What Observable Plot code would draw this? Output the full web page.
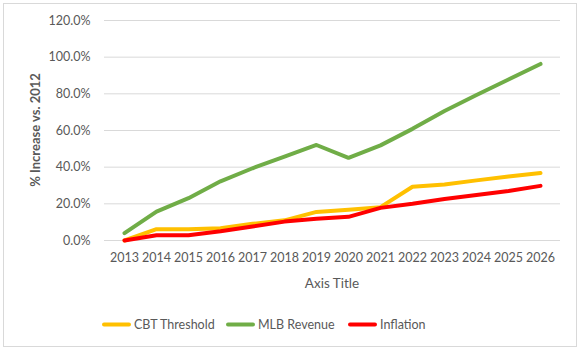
<!DOCTYPE html>
<html>
<head>
<meta charset="utf-8">
<script src="https://cdn.jsdelivr.net/npm/d3@7"></script>
<script src="https://cdn.jsdelivr.net/npm/@observablehq/plot@0.6"></script>
<style>
  html, body { margin: 0; padding: 0; background: #fff; }
  body { width: 583px; height: 352px; position: relative; overflow: hidden; font-family: Lato, "Open Sans", sans-serif; color: #595959; }
  #frame { position: absolute; left: 3px; top: 3px; width: 574px; height: 344px; border: 1px solid #d9d9d9; box-sizing: border-box; }
  #chart { position: absolute; left: 0; top: 0; }
  .ytitle { position: absolute; left: 35px; top: 130px; transform: translate(-50%, -50%) rotate(-90deg); font-weight: bold; font-size: 13px; white-space: nowrap; }
  .xtitle { position: absolute; left: 332px; top: 283px; transform: translate(-50%, -50%); font-size: 13.5px; white-space: nowrap; }
  .leg { position: absolute; top: 324px; transform: translateY(-50%); display: flex; align-items: center; font-size: 12.5px; white-space: nowrap; }
  .leg .sw { width: 29px; height: 4px; margin-right: 3px; border-radius: 2px; }
</style>
</head>
<body>
<div id="frame"></div>
<div id="chart"></div>
<div class="ytitle">% Increase vs. 2012</div>
<div class="xtitle">Axis Title</div>
<div id="legend"></div>
<script>
const years = ["2013","2014","2015","2016","2017","2018","2019","2020","2021","2022","2023","2024","2025","2026"];
const cbtThreshold = [0, 6.2, 6.2, 6.7, 9.1, 11.0, 15.6, 16.8, 18.2, 29.3, 30.5, 32.8, 34.9, 36.8];
const mlbRevenue  = [4.0, 15.8, 23.1, 32.3, 39.4, 45.8, 52.1, 45.1, 51.9, 60.9, 70.6, 79.4, 87.8, 96.3];
const inflation   = [0, 2.9, 2.9, 5.0, 7.6, 10.3, 11.8, 12.9, 17.8, 20.0, 22.6, 24.8, 27.0, 29.8];
const yTicks = [0, 20, 40, 60, 80, 100, 120];
const seriesNames = ["CBT Threshold", "MLB Revenue", "Inflation"];
const seriesColors = ["#FFC000", "#70AD47", "#FF0000"];
const legendX = [102, 226, 348];

const seriesValues = [cbtThreshold, mlbRevenue, inflation];
const rows = seriesNames.flatMap((name, i) =>
  years.map((year, j) => ({series: name, year, value: seriesValues[i][j]})));

const chart = Plot.plot({
  width: 583,
  height: 300,
  marginLeft: 104,
  marginRight: 23,
  marginTop: 20,
  marginBottom: 60,
  style: {fontFamily: "Lato, 'Open Sans', sans-serif", fontSize: "12px", color: "#595959", background: "transparent"},
  x: {type: "point", domain: years, padding: 0.5, align: 0.5},
  y: {domain: [0, 120]},
  color: {domain: seriesNames, range: seriesColors},
  marks: [
    Plot.gridY(yTicks, {stroke: "#d9d9d9", strokeOpacity: 1, strokeWidth: 1}),
    Plot.axisY({ticks: yTicks, tickSize: 0, tickPadding: 14, tickFormat: d => d.toFixed(1) + "%", label: null, fill: "#595959", fontSize: 12.5}),
    Plot.axisX({tickSize: 0, tickPadding: 13, label: null, fill: "#595959", fontSize: 12.5}),
    Plot.line(rows, {x: "year", y: "value", z: "series", stroke: "series", strokeWidth: 4, strokeLinejoin: "round", strokeLinecap: "round"})
  ]
});
document.getElementById("chart").appendChild(chart);

const legend = document.getElementById("legend");
seriesNames.forEach((name, i) => {
  const item = document.createElement("div");
  item.className = "leg";
  item.style.left = legendX[i] + "px";
  item.innerHTML = `<span class="sw" style="background:${seriesColors[i]}"></span><span>${name}</span>`;
  legend.appendChild(item);
});
</script>
</body>
</html>
